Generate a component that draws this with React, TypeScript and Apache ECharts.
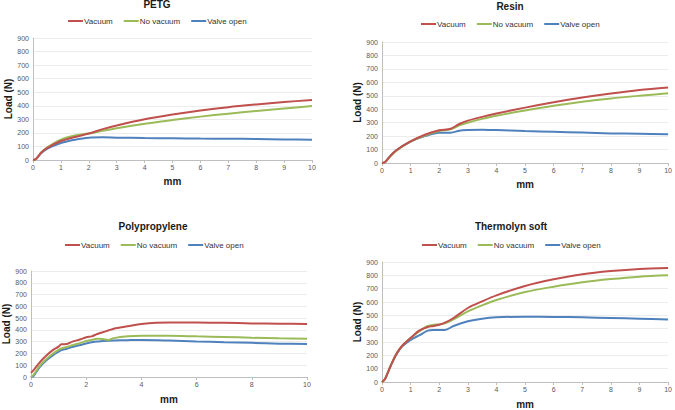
import React, { useEffect, useRef } from "react";
import * as echarts from "echarts";

const seriesNames = ["Vacuum", "No vacuum", "Valve open"];
const colors = ["#C0504D", "#9BBB59", "#4F81BD"];
const panelTitles = ["PETG", "Resin", "Polypropylene", "Thermolyn soft"];
const yTicks = { min: 0, max: 900, interval: 100 };

// PETG
const petgX = [0, 0.1, 0.3, 0.5, 1, 1.5, 2, 2.5, 3, 4, 5, 6, 7, 8, 9, 10];
const petgVacuum = [0, 5, 55, 88, 140, 170, 195, 228, 255, 300, 335, 365, 390, 410, 428, 442];
const petgNoVacuum = [0, 5, 58, 92, 150, 180, 195, 215, 235, 268, 295, 320, 342, 362, 380, 398];
const petgValve = [0, 5, 52, 82, 125, 150, 165, 167, 165, 162, 160, 158, 157, 155, 152, 150];

// Resin
const resinX = [0, 0.1, 0.3, 0.5, 1, 1.5, 2, 2.4, 2.7, 3, 3.5, 4, 5, 6, 7, 8, 9, 10];
const resinVacuum = [0, 5, 55, 95, 160, 210, 243, 255, 290, 315, 343, 368, 412, 452, 487, 517, 543, 562];
const resinNoVacuum = [0, 5, 50, 90, 160, 205, 238, 250, 280, 300, 328, 352, 390, 425, 455, 480, 500, 518];
const resinValve = [0, 5, 55, 95, 160, 200, 225, 225, 240, 245, 248, 245, 238, 232, 226, 220, 218, 213];

// Polypropylene
const ppX = [0, 0.1, 0.3, 0.5, 0.8, 1, 1.1, 1.3, 1.5, 1.8, 2, 2.2, 2.4, 2.6, 2.8, 3, 3.5, 4, 5, 6, 7, 8, 9, 10];
const ppVacuum = [35, 60, 120, 170, 230, 258, 278, 280, 300, 320, 338, 345, 365, 380, 395, 410, 430, 450, 462, 462, 460, 455, 453, 450];
const ppNoVacuum = [0, 20, 90, 140, 200, 230, 242, 255, 270, 290, 305, 315, 325, 322, 315, 330, 345, 350, 350, 345, 340, 333, 328, 325];
const ppValve = [0, 10, 80, 130, 185, 215, 228, 240, 255, 272, 285, 295, 302, 305, 308, 310, 313, 315, 310, 302, 295, 290, 283, 280];

// Thermolyn soft
const thX = [0, 0.1, 0.3, 0.5, 0.7, 1, 1.3, 1.6, 1.8, 2, 2.2, 2.5, 3, 3.5, 4, 5, 6, 7, 8, 9, 10];
const thVacuum = [0, 20, 120, 210, 270, 330, 385, 412, 420, 430, 445, 480, 555, 605, 650, 720, 770, 808, 832, 848, 855];
const thNoVacuum = [0, 20, 120, 210, 270, 330, 380, 420, 430, 432, 440, 470, 530, 575, 615, 675, 715, 748, 772, 790, 800];
const thValve = [0, 20, 120, 205, 265, 315, 350, 385, 390, 390, 390, 420, 455, 475, 485, 490, 488, 485, 480, 475, 468];

const xTickSteps = [1, 1, 2, 1];

const panels = [
  { x: petgX, ys: [petgVacuum, petgNoVacuum, petgValve] },
  { x: resinX, ys: [resinVacuum, resinNoVacuum, resinValve] },
  { x: ppX, ys: [ppVacuum, ppNoVacuum, ppValve] },
  { x: thX, ys: [thVacuum, thNoVacuum, thValve] },
];

// layout (pixels)
const grids = [
  { left: 33, top: 38, width: 279, height: 122 },
  { left: 382, top: 42, width: 287, height: 121 },
  { left: 31, top: 271, width: 276, height: 106 },
  { left: 382, top: 262, width: 288, height: 121 },
];
const titlePos = [
  { cx: 157, top: -1 },
  { cx: 510, top: 1 },
  { cx: 153, top: 221 },
  { cx: 511, top: 221 },
];
const legendPos = [
  { left: 68, top: 17 },
  { left: 421, top: 20 },
  { left: 65, top: 241 },
  { left: 422, top: 241 },
];
const xNameGap = [16, 16, 17, 17];
const yNameGap = [17, 17, 19, 18];

const FONT = "'Liberation Sans', Arial, sans-serif";

export default function App() {
  const ref = useRef<HTMLDivElement>(null);
  useEffect(() => {
    if (!ref.current) return;
    const chart = echarts.init(ref.current, null, { renderer: "svg" });
    const option: any = {
      animation: false,
      backgroundColor: "#ffffff",
      textStyle: { fontFamily: FONT },
      title: panelTitles.map((t, i) => ({
        text: t,
        left: titlePos[i].cx,
        top: titlePos[i].top,
        textAlign: "center",
        padding: 0,
        textStyle: { fontSize: 10, fontWeight: "bold", color: "#1a1a1a", fontFamily: FONT },
      })),
      legend: panelTitles.map((_, i) => ({
        left: legendPos[i].left,
        top: legendPos[i].top,
        padding: 0,
        width: 220,
        orient: "horizontal",
        data: seriesNames.map((n) => ({ name: n, icon: "rect" })),
        itemWidth: 15,
        itemHeight: 2,
        itemGap: 11,
        textStyle: { fontSize: 8, color: "#333", fontFamily: FONT, padding: [0, 0, 0, -4] },
        selectedMode: false,
      })),
      grid: grids.map((g) => ({ ...g, containLabel: false })),
      xAxis: grids.map((_, i) => ({
        type: "value",
        gridIndex: i,
        min: 0,
        max: 10,
        interval: xTickSteps[i],
        name: "mm",
        nameLocation: "middle",
        nameGap: xNameGap[i],
        nameTextStyle: { fontSize: 10, fontWeight: "bold", color: "#1a1a1a" },
        axisLine: { lineStyle: { color: "#bfbfbf" } },
        axisTick: { show: true, length: 3, lineStyle: { color: "#bfbfbf" } },
        axisLabel: { fontSize: 7, color: "#595959", margin: 4 },
        splitLine: { show: false },
      })),
      yAxis: grids.map((_, i) => ({
        type: "value",
        gridIndex: i,
        min: yTicks.min,
        max: yTicks.max,
        interval: yTicks.interval,
        name: "Load (N)",
        nameLocation: "middle",
        nameGap: yNameGap[i],
        nameTextStyle: { fontSize: 10, fontWeight: "bold", color: "#1a1a1a" },
        axisLine: { show: true, lineStyle: { color: "#bfbfbf" } },
        axisTick: { show: false },
        axisLabel: { fontSize: 7, color: "#595959", margin: 4 },
        splitLine: { show: true, lineStyle: { color: "#ececec", width: 1 } },
      })),
      series: panels.flatMap((p, i) =>
        p.ys.map((ys, k) => ({
          type: "line",
          name: seriesNames[k],
          xAxisIndex: i,
          yAxisIndex: i,
          data: p.x.map((xv, j) => [xv, ys[j]]),
          smooth: 0.3,
          showSymbol: false,
          symbol: "none",
          lineStyle: { color: colors[k], width: 2 },
          itemStyle: { color: colors[k] },
          z: 3 - k,
        }))
      ),
    };
    chart.setOption(option);
    return () => chart.dispose();
  }, []);
  return (
    <div
      ref={ref}
      style={{ position: "absolute", left: 0, top: 0, width: 675, height: 410 }}
    />
  );
}
